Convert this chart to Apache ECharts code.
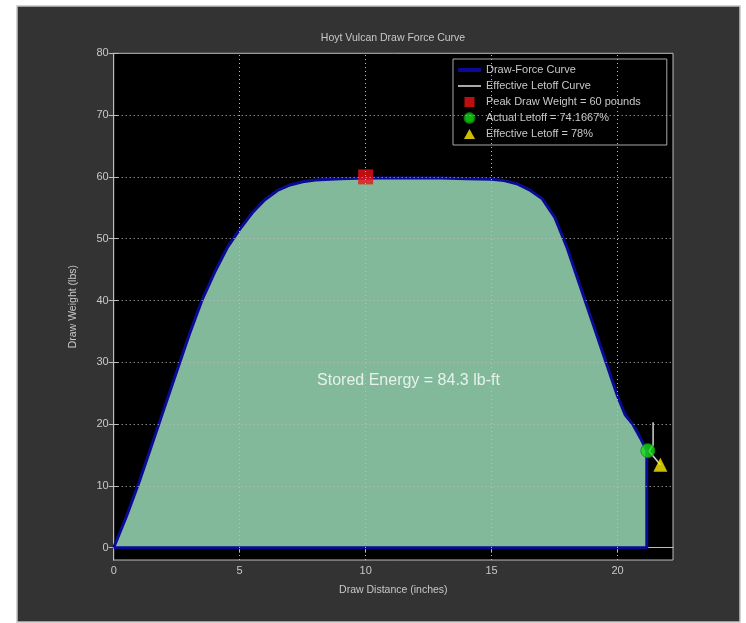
<!DOCTYPE html>
<html><head><meta charset="utf-8">
<script src="https://cdn.jsdelivr.net/npm/echarts@6/dist/echarts.min.js"></script>
<style>html,body{margin:0;padding:0;background:#fff;} #c{width:746px;height:623px;}</style>
</head><body><div id="c"></div>
<script>
// Draw-force curve (inches, lbs), closed back along the baseline
const drawX = [0, 0.5, 1, 1.5, 2, 2.5, 3, 3.5, 4, 4.5, 5, 5.5, 6, 6.5, 7, 7.5, 8, 9, 10, 11, 12, 13, 14, 15, 15.5, 16, 16.5, 17, 17.5, 18, 18.5, 19, 19.5, 20, 20.3, 20.6, 20.9, 21.16, 21.16, 0];
const drawY = [0, 5, 10.5, 16.5, 22.5, 28.5, 34.5, 40, 44.5, 48.5, 51.5, 54.2, 56.3, 57.8, 58.7, 59.2, 59.5, 59.7, 59.8, 59.8, 59.8, 59.8, 59.7, 59.6, 59.4, 58.9, 57.9, 56.5, 53.5, 48.5, 42.5, 36.5, 30.5, 24.5, 21.5, 20, 17.8, 15.7, 0, 0];
// Effective letoff curve
const effX = [21.41, 21.41, 21.25, 21.7];
const effY = [20.3, 16.6, 15.6, 13.4];
// Markers
const peakPoint = [10, 60];
const actualLetoffPoint = [21.2, 15.7];
const effectiveLetoffPoint = [21.7, 13.4];
// Axes
const xTicks = [0, 5, 10, 15, 20];
const yTicks = [0, 10, 20, 30, 40, 50, 60, 70, 80];
const xGrid = [5, 10, 15, 20];
const yGrid = [10, 20, 30, 40, 50, 60, 70];
const legendNames = ['Draw-Force Curve', 'Effective Letoff Curve', 'Peak Draw Weight = 60 pounds', 'Actual Letoff = 74.1667%', 'Effective Letoff = 78%'];
const energyText = 'Stored Energy = 84.3 lb-ft';
const energyPos = [11.7, 27];

const txt = '#c8c8c8';
const axisCol = '#bdbdbd';
const font = 'Arial, "Liberation Sans", sans-serif';

const legendIcons = [
  'path://M0,0h23v4h-23z',
  'path://M0,0h23v1.6h-23z',
  'path://M0,0h10v10h-10z',
  'circle',
  'path://M5,0L10,9L0,9Z'
];

const chart = echarts.init(document.getElementById('c'));
const tickCommon = {show: true, inside: true, length: 5, lineStyle: {color: axisCol}};
const option = {
  backgroundColor: '#ffffff',
  animation: false,
  graphic: [{
    type: 'rect', z: -10, silent: true,
    shape: {x: 17, y: 6, width: 723, height: 616},
    style: {fill: '#333333', stroke: '#c4c4c4', lineWidth: 1.5}
  }],
  title: {
    text: 'Hoyt Vulcan Draw Force Curve', left: 393, top: 33, textAlign: 'center', padding: 0,
    textStyle: {color: txt, fontSize: 10.5, fontWeight: 'normal', fontFamily: font}
  },
  grid: {left: 113.7, right: 73, top: 53.3, bottom: 63, show: true, backgroundColor: '#000000', borderColor: axisCol, borderWidth: 1},
  legend: {
    data: legendNames.map((n, i) => ({name: n, icon: legendIcons[i]})),
    orient: 'vertical', left: 453, top: 59,
    padding: [5, 26, 5, 5], itemGap: 4, itemWidth: 23, itemHeight: 10,
    symbolKeepAspect: true,
    backgroundColor: '#000000', borderColor: '#a8a8a8', borderWidth: 1,
    textStyle: {color: txt, fontSize: 11, lineHeight: 12, fontFamily: font}
  },
  xAxis: [{
    type: 'value', min: 0, max: 22.2, position: 'bottom',
    name: 'Draw Distance (inches)', nameLocation: 'middle', nameGap: 25,
    nameTextStyle: {color: txt, fontSize: 10.5, fontFamily: font},
    axisLine: {show: true, lineStyle: {color: axisCol}},
    axisTick: Object.assign({customValues: xTicks}, tickCommon),
    axisLabel: {customValues: xTicks, color: txt, fontSize: 11, margin: 5, fontFamily: font},
    splitLine: {show: false}
  }, {
    type: 'value', min: 0, max: 22.2, position: 'top',
    axisLine: {show: true, lineStyle: {color: axisCol}},
    axisTick: Object.assign({customValues: xTicks}, tickCommon),
    axisLabel: {show: false}, splitLine: {show: false}
  }],
  yAxis: [{
    type: 'value', min: -2, max: 80, position: 'left',
    name: 'Draw Weight (lbs)', nameLocation: 'middle', nameGap: 35, nameRotate: 90,
    nameTextStyle: {color: txt, fontSize: 10.5, fontFamily: font},
    axisLine: {show: true, lineStyle: {color: axisCol}},
    axisTick: Object.assign({customValues: yTicks}, tickCommon),
    axisLabel: {customValues: yTicks, color: txt, fontSize: 11, margin: 5, fontFamily: font},
    splitLine: {show: false}
  }, {
    type: 'value', min: -2, max: 80, position: 'right',
    axisLine: {show: true, lineStyle: {color: axisCol}},
    axisTick: Object.assign({customValues: yTicks}, tickCommon),
    axisLabel: {show: false}, splitLine: {show: false}
  }],
  series: [
    {
      name: 'grid', type: 'line', data: [], z: 1, silent: true,
      markLine: {
        silent: true, symbol: ['none', 'none'], label: {show: false},
        lineStyle: {type: [1, 3], color: '#bdbdbd', width: 1},
        data: yGrid.map(v => ({yAxis: v})).concat(xGrid.map(v => ({xAxis: v})))
      }
    },
    {
      name: legendNames[0], type: 'line', z: 2, symbol: 'none', smooth: false,
      data: drawX.map((x, i) => [x, drawY[i]]),
      lineStyle: {color: '#0a0a96', width: 3},
      itemStyle: {color: '#0a0a96'},
      areaStyle: {color: '#83b99b', opacity: 1}
    },
    {
      name: legendNames[1], type: 'line', z: 3, symbol: 'none',
      data: effX.map((x, i) => [x, effY[i]]),
      lineStyle: {color: '#d4d4d4', width: 1.5},
      itemStyle: {color: '#d4d4d4'}
    },
    {
      name: legendNames[2], type: 'scatter', z: 4, symbol: 'rect', symbolSize: 15,
      data: [peakPoint], itemStyle: {color: '#ee1111'}
    },
    {
      name: legendNames[3], type: 'scatter', z: 4, symbol: 'circle', symbolSize: 14,
      data: [actualLetoffPoint], itemStyle: {color: '#16dd16', borderColor: '#0a8a0a', borderWidth: 1}
    },
    {
      name: legendNames[4], type: 'scatter', z: 4, symbol: 'triangle', symbolSize: 14,
      data: [effectiveLetoffPoint], itemStyle: {color: '#ffee00'}
    },
    {
      name: 'annotation', type: 'scatter', z: 5, symbolSize: 0, silent: true,
      data: [energyPos],
      label: {show: true, position: 'inside', formatter: energyText, color: '#ffffff', fontSize: 16, fontFamily: font}
    }
  ]
};
chart.setOption(option);
</script>
</body></html>
